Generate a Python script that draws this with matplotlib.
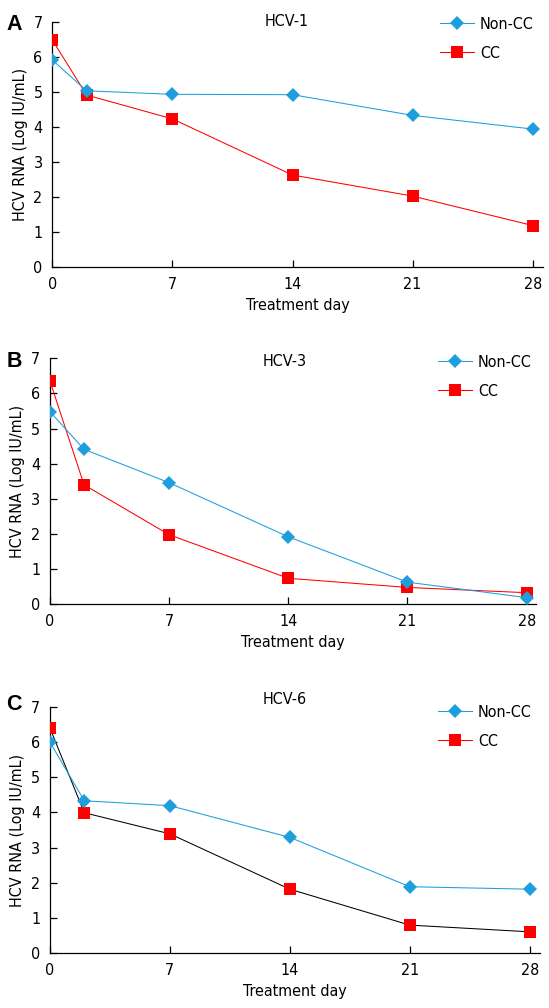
import matplotlib
matplotlib.use("Agg")
import matplotlib.pyplot as plt
from matplotlib import font_manager
from matplotlib.lines import Line2D

# ---------------- data ----------------
days = [0, 2, 7, 14, 21, 28]
x_ticks = [0, 7, 14, 21, 28]
y_ticks = [0, 1, 2, 3, 4, 5, 6, 7]

hcv1_noncc = [5.91, 5.03, 4.93, 4.92, 4.33, 3.94]
hcv1_cc = [6.48, 4.91, 4.23, 2.63, 2.03, 1.19]

hcv3_noncc = [5.48, 4.41, 3.46, 1.92, 0.63, 0.19]
hcv3_cc = [6.35, 3.40, 1.98, 0.74, 0.48, 0.33]

hcv6_noncc = [5.99, 4.33, 4.19, 3.29, 1.89, 1.82]
hcv6_cc = [6.39, 3.99, 3.39, 1.82, 0.80, 0.61]

panel_letters = ["A", "B", "C"]
panel_titles = ["HCV-1", "HCV-3", "HCV-6"]
series_labels = ["Non-CC", "CC"]
x_label = "Treatment day"
y_label = "HCV RNA (Log IU/mL)"

# ---------------- fonts ----------------
condensed = any("DejaVuSansCondensed" in f.fname.replace("-", "") and "Bold" not in f.fname
                for f in font_manager.fontManager.ttflist)
if condensed:
    plt.rcParams["font.family"] = ["DejaVu Sans"]
    plt.rcParams["font.stretch"] = "condensed"
else:
    plt.rcParams["font.family"] = ["Liberation Sans", "DejaVu Sans"]
FS = 11.5

BLUE = "#1E9EDC"
RED = "#FF0000"
LW = 0.75

W, H = 549, 1008
fig = plt.figure(figsize=(W / 100, H / 100), dpi=100)


def px_axes(left, top, right, bottom):
    return [left / W, 1 - bottom / H, (right - left) / W, (bottom - top) / H]


panels = [
    dict(rect=px_axes(52.3, 21.7, 543, 267.3), xmax=28.6, noncc=hcv1_noncc, cc=hcv1_cc,
         cc_line=RED, title_xy=(287, 22), letter_xy=(14, 25), leg_xy=(440, 17)),
    dict(rect=px_axes(50, 358.3, 536, 604.3), xmax=28.55, noncc=hcv3_noncc, cc=hcv3_cc,
         cc_line=RED, title_xy=(285, 362), letter_xy=(14, 361), leg_xy=(438, 355)),
    dict(rect=px_axes(50, 706.7, 540, 953.3), xmax=28.6, noncc=hcv6_noncc, cc=hcv6_cc,
         cc_line="black", title_xy=(285, 699), letter_xy=(14, 704), leg_xy=(438, 705)),
]

for i, p in enumerate(panels):
    ax = fig.add_axes(p["rect"])
    ax.plot(days, p["cc"], color=p["cc_line"], lw=LW, zorder=2)
    ax.plot(days, p["cc"], linestyle="none", marker="s", ms=9.3, color=RED,
            markeredgewidth=0, zorder=3)
    ax.plot(days, p["noncc"], color=BLUE, lw=LW, marker="D", ms=7, markeredgewidth=0,
            markerfacecolor=BLUE, zorder=4)

    ax.set_xlim(0, p["xmax"])
    ax.set_ylim(0, 7)
    ax.set_xticks(x_ticks)
    ax.set_xticklabels([str(t) for t in x_ticks])
    ax.set_yticks(y_ticks)
    ax.set_yticklabels([str(t) for t in y_ticks])
    for s in ("top", "right"):
        ax.spines[s].set_visible(False)
    for s in ("left", "bottom"):
        ax.spines[s].set_linewidth(0.9)
    ax.tick_params(axis="both", direction="in", length=5, width=0.9, labelsize=FS, pad=7)
    ax.set_xlabel(x_label, fontsize=FS, labelpad=4)
    ax.set_ylabel(y_label, fontsize=FS, labelpad=4)

    handles = [Line2D([], [], color=BLUE, lw=LW, marker="D", ms=7, markeredgewidth=0),
               Line2D([], [], color=RED, lw=LW, marker="s", ms=9.3, markeredgewidth=0)]
    lx, ly = p["leg_xy"]
    ax.legend(handles, series_labels, loc="upper left", bbox_to_anchor=(lx / W, 1 - ly / H),
              bbox_transform=fig.transFigure, frameon=False, fontsize=FS, handlelength=2.1,
              handletextpad=0.4, labelspacing=0.85, borderpad=0, borderaxespad=0)

    tx, ty = p["title_xy"]
    fig.text(tx / W, 1 - ty / H, panel_titles[i], fontsize=FS, ha="center", va="center")
    lx2, ly2 = p["letter_xy"]
    fig.text(lx2 / W, 1 - ly2 / H, panel_letters[i], fontsize=15.5, fontweight="bold",
             ha="center", va="center", family=["Liberation Sans", "DejaVu Sans"],
             fontstretch="normal")

fig.savefig("out.png", dpi=100)
